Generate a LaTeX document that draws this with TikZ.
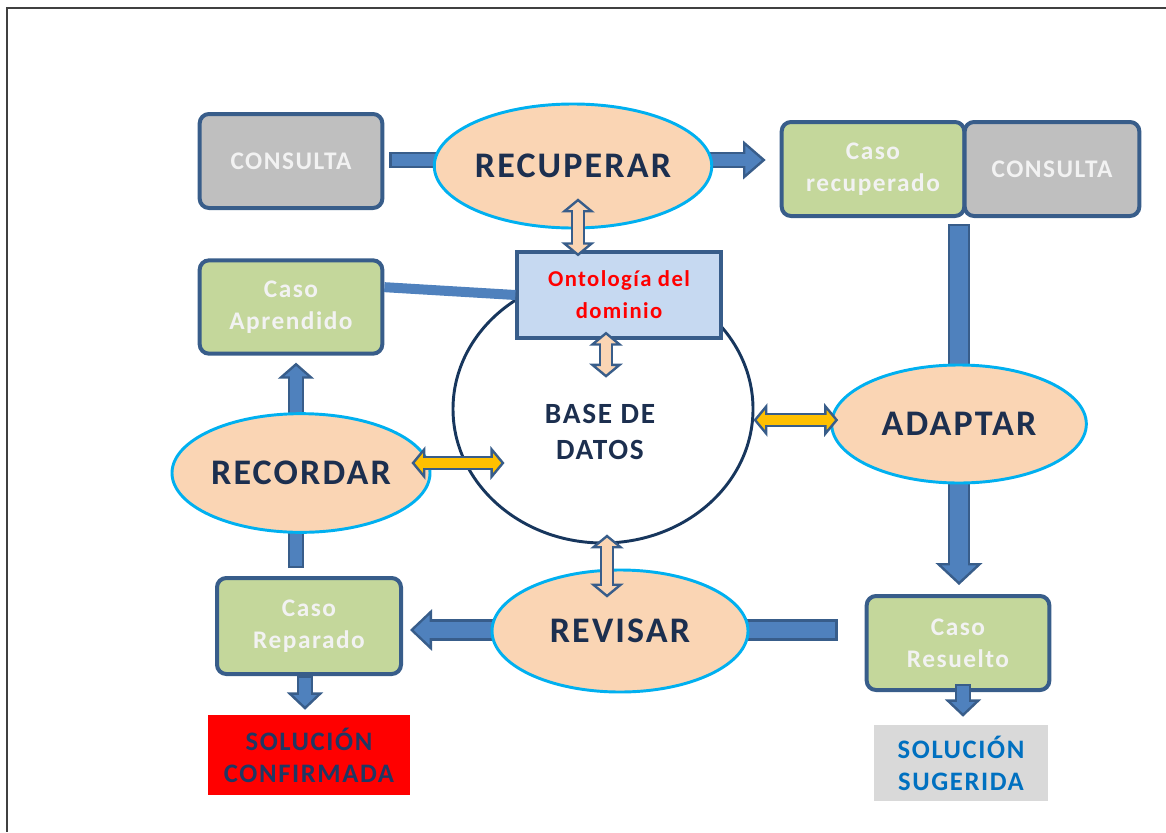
\documentclass[tikz,border=0pt]{standalone}
\usepackage{fontspec}
\setmainfont{Carlito}[LetterSpace=6]
\usetikzlibrary{shapes.geometric,arrows.meta,calc,backgrounds}

\definecolor{flowblue}{HTML}{4F81BD}
\definecolor{flowedge}{HTML}{385D8A}
\definecolor{peach}{HTML}{FAD5B4}
\definecolor{skyline}{HTML}{00B0F0}
\definecolor{navy}{HTML}{1C2F4F}
\definecolor{casegreen}{HTML}{C4D79B}
\definecolor{querygray}{HTML}{BFBFBF}
\definecolor{ontoblue}{HTML}{C6D9F1}
\definecolor{ringnavy}{HTML}{17365D}
\definecolor{gold}{HTML}{FFC000}
\definecolor{softwhite}{HTML}{F2F2F2}
\definecolor{solgray}{HTML}{D9D9D9}
\definecolor{solblue}{HTML}{0070C0}
\definecolor{solnavy}{HTML}{1F3864}
\definecolor{framegray}{HTML}{404040}

\begin{document}
\begin{tikzpicture}[x=0.75pt,y=-0.75pt,
  phase/.style={ellipse,draw=skyline,line width=2.2pt,fill=peach,text=navy,
    font=\fontsize{27}{30}\selectfont\bfseries,inner sep=0pt},
  casebox/.style={draw=flowedge,line width=3pt,rounded corners=7pt,fill=casegreen,
    text=softwhite,align=center,font=\fontsize{19}{24}\selectfont\bfseries,inner sep=0pt},
  querybox/.style={casebox,fill=querygray},
  solbox/.style={align=center,inner sep=0pt,font=\fontsize{20}{24}\selectfont\bfseries},
  flow/.style n args={3}{draw=flowedge,line width=#1,
    -{Triangle[width=#2,length=#3,fill=flowblue,line width=1.8pt]},
    postaction={draw=flowblue,line width=#1-3.6pt,arrows=-,shorten <=1.8pt,shorten >=#3-3pt}},
  bar/.style={draw=flowedge,line width=#1,
    postaction={draw=flowblue,line width=#1-3.6pt,shorten <=1.8pt,shorten >=1.8pt}},
  link/.style={draw=flowedge,line width=11pt,
    {Triangle[width=25pt,length=10.5pt,fill=#1,line width=1.8pt]}-{Triangle[width=25pt,length=10.5pt,fill=#1,line width=1.8pt]},
    postaction={draw=#1,line width=7.4pt,arrows=-,shorten <=8pt,shorten >=8pt}}]
  \useasboundingbox (0,0) rectangle (1166,832);
  \draw[framegray,line width=1.2pt] (1166,8) -- (7,8) -- (7,832);

  % base de datos
  \node[ellipse,draw=ringnavy,line width=2.2pt,minimum width=225pt,minimum height=201pt] (base) at (603,409) {};
  \node[text=navy,align=center,font=\fontsize{22}{27}\selectfont\bfseries] (basetxt) at (600,432) {BASE DE\\DATOS};

  % phases
  \node[phase,minimum width=190pt,minimum height=93pt] (recuperar) at (573,166) {RECUPERAR};
  \node[phase,minimum width=191pt,minimum height=88.5pt] (adaptar) at (959,424) {ADAPTAR};
  \node[phase,minimum width=192pt,minimum height=91.5pt] (revisar) at (620,631) {REVISAR};
  \node[phase,minimum width=193.5pt,minimum height=89pt] (recordar) at (301,473) {RECORDAR};

  % cases
  \node[querybox,minimum width=137pt,minimum height=70.5pt] (consulta1) at (291,161) {CONSULTA};
  \node[casebox,minimum width=137pt,minimum height=70.5pt] (recup) at (873,169) {Caso\\recuperado};
  \node[querybox,minimum width=131pt,minimum height=70.5pt] (consulta2) at (1052,169) {CONSULTA};
  \node[casebox,minimum width=137pt,minimum height=70.5pt] (resuelto) at (958,643) {Caso\\Resuelto};
  \node[casebox,minimum width=138pt,minimum height=72pt] (reparado) at (309,626) {Caso\\Reparado};
  \node[casebox,minimum width=137pt,minimum height=70pt] (aprendido) at (291,307) {Caso\\Aprendido};

  % ontology over the base
  \node[draw=flowedge,line width=2.5pt,fill=ontoblue,minimum width=153pt,minimum height=64.5pt,
    text=red,align=center,font=\fontsize{17}{24}\selectfont\bfseries] (ontologia) at (619,295) {Ontología del\\dominio};
  \draw[flowblue,line width=7.5pt] (aprendido.12) -- (ontologia.west);

  % solutions
  \node[solbox,fill=red,text=solnavy,minimum width=152pt,minimum height=60pt] (confirmada) at (309,755) {SOLUCIÓN\\CONFIRMADA};
  \node[solbox,fill=solgray,text=solblue,minimum width=130pt,minimum height=57pt] (sugerida) at (961,763) {SOLUCIÓN\\SUGERIDA};

  \begin{scope}[on background layer]
    \draw[bar=12pt] ($(consulta1.east)+(5,-1)$) -- ($(recuperar.center)+(0,-6)$);
    \draw[flow={12pt}{29pt}{17pt}] ($(recuperar.center)+(0,-6)$) -- ($(recup.west)+(-14,-9)$);
    \draw[bar=17pt] ($(adaptar.center |- recup.south)+(0,6)$) -- (adaptar.center);
    \draw[flow={17pt}{35pt}{16.5pt}] (adaptar.center) -- ($(adaptar.center |- resuelto.north)+(0,-9)$);
    \draw[bar=16pt] ($(revisar.center)+(0,-1)$) -- ($(revisar.center -| resuelto.west)+(-27,-1)$);
    \draw[flow={16pt}{31pt}{16.5pt}] ($(revisar.center)+(0,-1)$) -- ($(revisar.center -| reparado.east)+(7,-1)$);
    \draw[bar=12pt] ($(recordar.center |- reparado.north)+(-5,-8)$) -- ($(recordar.center)+(-5,0)$);
    \draw[flow={12pt}{27pt}{12pt}] ($(recordar.center)+(-5,0)$) -- ($(recordar.center |- aprendido.south)+(-5,7)$);
  \end{scope}
  \draw[flow={12pt}{27pt}{13pt}] ($(resuelto.south)+(5,-8)$) -- ($(resuelto.south |- sugerida.north)+(5,-8)$);
  \draw[flow={12pt}{27pt}{13pt}] ($(reparado.south)+(-4,0)$) -- ($(reparado.south |- confirmada.north)+(-4,-5)$);

  % links to the base
  \draw[link=peach] ($(recuperar.south)+(5,-31)$) -- ($(recuperar.south |- ontologia.north)+(5,6)$);
  \draw[link=peach] ($(ontologia.south)+(-13,-8)$) -- ($(ontologia.south)+(-13,38)$);
  \draw[link=peach] ($(base.south)+(4,-10)$) -- ($(base.south |- revisar.north)+(4,29)$);
  \draw[link=gold] ($(recordar.east)+(-20,-10)$) -- ($(recordar.east)+(73,-10)$);
  \draw[link=gold] ($(base.east)+(-1,11)$) -- ($(base.east -| adaptar.west)+(8,11)$);
\end{tikzpicture}
\end{document}
